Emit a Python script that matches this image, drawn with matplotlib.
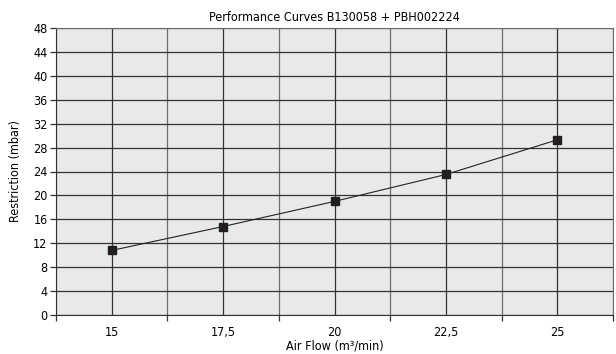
import matplotlib
matplotlib.use("Agg")
import matplotlib.pyplot as plt
from matplotlib.ticker import FixedLocator, MultipleLocator

air_flow = [15, 17.5, 20, 22.5, 25]
air_flow_labels = ["15", "17,5", "20", "22,5", "25"]
restriction = [10.8, 14.8, 19.0, 23.5, 29.3]

plt.rcParams["font.family"] = ["DejaVu Sans"]
plt.rcParams["font.stretch"] = "condensed"

fig = plt.figure(figsize=(6.16, 3.54), dpi=100)
ax = fig.add_axes([56 / 616, 1 - 315 / 354, 557 / 616, 287 / 354])
ax.set_facecolor("#e8e9eb")

ax.plot(air_flow, restriction, color="#222222", lw=0.8, marker="s", ms=6,
        mfc="#231f20", mec="#231f20", zorder=3)

ax.set_xlim(13.75, 26.25)
ax.set_ylim(0, 48)
ax.yaxis.set_major_locator(MultipleLocator(4))
ax.xaxis.set_major_locator(FixedLocator(air_flow))
ax.set_xticklabels(air_flow_labels)
ax.xaxis.set_minor_locator(FixedLocator([13.75, 16.25, 18.75, 21.25, 23.75, 26.25]))

ax.grid(True, which="major", axis="both", color="#333333", lw=0.9)
ax.grid(True, which="minor", axis="x", color="#6e6e6e", lw=0.9)
ax.set_axisbelow(True)

for s in ["top", "right"]:
    ax.spines[s].set_color("#6e6e6e")
ax.spines["left"].set_color("#333333")
ax.spines["bottom"].set_color("#333333")

ax.tick_params(axis="x", which="major", length=0, pad=8, labelsize=9)
ax.tick_params(axis="x", which="minor", length=4, width=0.9, color="#333333")
ax.tick_params(axis="y", which="major", length=4, width=0.9, color="#333333", labelsize=9, pad=2)

ax.set_title("Performance Curves B130058 + PBH002224", fontsize=9, pad=5)
ax.set_xlabel("Air Flow (m³/min)", fontsize=9, labelpad=0)
ax.set_ylabel("Restriction (mbar)", fontsize=9, labelpad=8)

fig.savefig("out.png", dpi=100)
